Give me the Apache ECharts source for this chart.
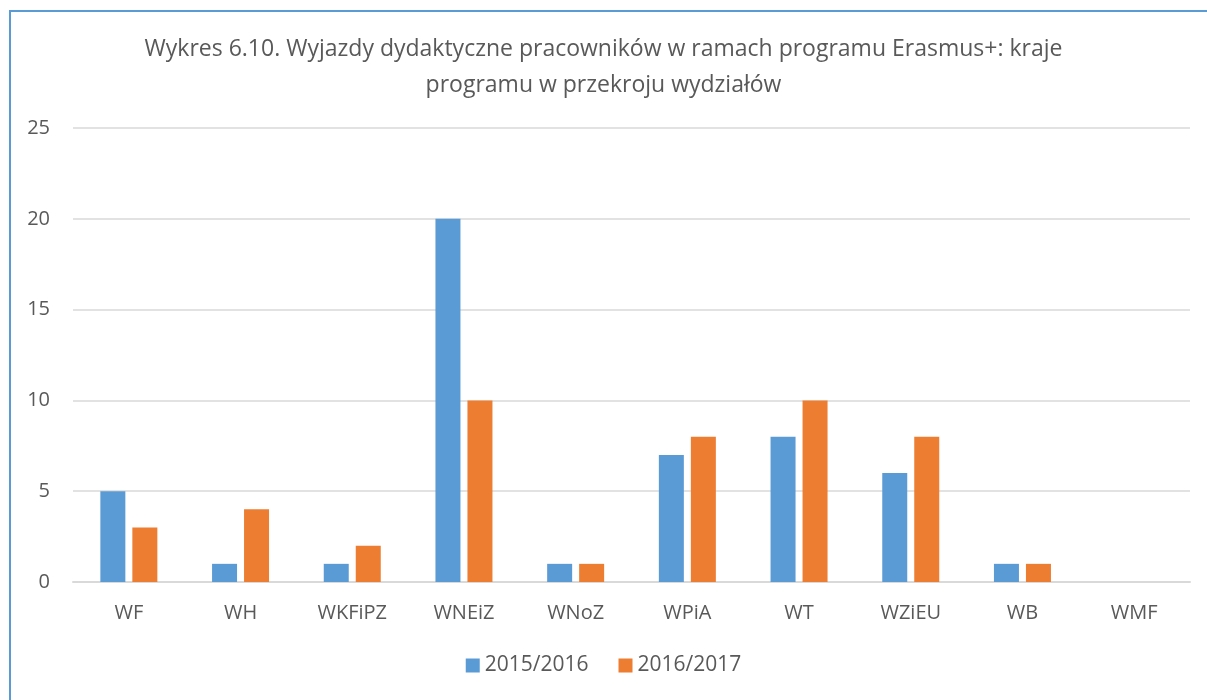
<!DOCTYPE html>
<html><head><meta charset="utf-8">
<script src="https://cdn.jsdelivr.net/npm/echarts@6/dist/echarts.min.js"></script>
<style>html,body{margin:0;padding:0;background:#fff}#c{width:1207px;height:700px}
#frame{position:absolute;left:9px;top:10px;width:1220px;height:720px;border:2px solid #5B9BD5;box-sizing:border-box;pointer-events:none}</style>
</head><body><div id="c"></div><div id="frame"></div>
<script>
const categories = ['WF','WH','WKFiPZ','WNEiZ','WNoZ','WPiA','WT','WZiEU','WB','WMF'];
const s2015 = [5,1,1,20,1,7,8,6,1,0];
const s2016 = [3,4,2,10,1,8,10,8,1,0];
const seriesNames = ['2015/2016','2016/2017'];
const titleText = 'Wykres 6.10. Wyjazdy dydaktyczne pracowników w ramach programu Erasmus+: kraje\nprogramu w przekroju wydziałów';
const font = '"Open Sans", "Noto Sans", sans-serif';
const chart = echarts.init(document.getElementById('c'));
chart.setOption({
  animation:false,
  title:{text:titleText,left:'center',top:26,textStyle:{fontFamily:font,fontSize:23,fontWeight:'normal',color:'#595959',lineHeight:36}},
  legend:{bottom:19,left:'center',itemWidth:14,itemHeight:14,itemGap:30,icon:'rect',
    textStyle:{fontFamily:font,fontSize:21,color:'#595959'},data:seriesNames},
  grid:{left:73,right:17,top:128,bottom:118},
  xAxis:{type:'category',data:categories,axisTick:{show:false},
    axisLine:{lineStyle:{color:'#D9D9D9',width:2}},
    axisLabel:{fontFamily:font,fontSize:20,color:'#595959',margin:21}},
  yAxis:{type:'value',min:0,max:25,interval:5,
    axisLabel:{fontFamily:font,fontSize:20,color:'#595959',margin:23},
    splitLine:{lineStyle:{color:'#D9D9D9',width:1.5}},axisLine:{show:false}},
  series:[
    {name:seriesNames[0],type:'bar',data:s2015,barWidth:25,barGap:'28%',itemStyle:{color:'#5B9BD5'}},
    {name:seriesNames[1],type:'bar',data:s2016,barWidth:25,barGap:'28%',itemStyle:{color:'#ED7D31'}}
  ]
});
</script></body></html>
